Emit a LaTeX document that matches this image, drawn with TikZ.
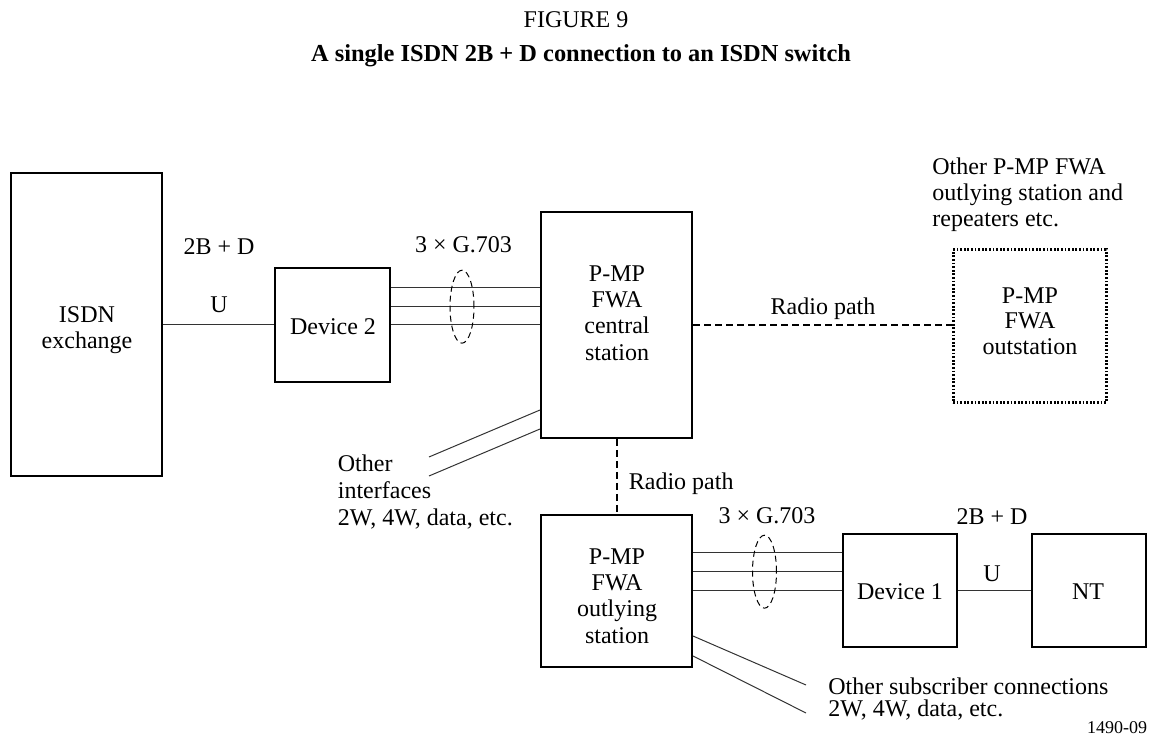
\documentclass[tikz,border=0pt]{standalone}
\usepackage{fontspec}
\setmainfont{Liberation Serif}
\usetikzlibrary{shapes.geometric}
\begin{document}
\begin{tikzpicture}[x=0.5pt,y=-0.5pt,
  box/.style={draw,line width=1pt,rectangle,inner sep=0pt},
  dotbox/.style={draw,line width=1.5pt,rectangle,inner sep=0pt,dash pattern=on 0.9pt off 0.9pt},
  lbl/.style={font=\fontsize{12pt}{13.2pt}\selectfont,inner sep=0pt,align=center},
  lbll/.style={font=\fontsize{12pt}{13pt}\selectfont,inner sep=0pt,align=left,anchor=west},
  wire/.style={line width=0.5pt,black!80},
  radio/.style={line width=1pt,dash pattern=on 3.5pt off 2pt},
  bundle/.style={draw,ellipse,line width=0.5pt,dash pattern=on 3pt off 2pt,minimum width=12pt,minimum height=36.5pt,inner sep=0pt}]
\useasboundingbox (0,0) rectangle (1152,737);

% titles
\node[lbl] (fig) at (576,20) {FIGURE 9};
\node[lbl,font=\fontsize{12.2pt}{14pt}\selectfont\bfseries] (title) at (581,56) {A single ISDN 2B + D connection to an ISDN switch};

% boxes
\node[box,minimum width=75.5pt,minimum height=151.5pt] (isdn) at (86.5,325) {};
\node[box,minimum width=57.5pt,minimum height=57pt] (dev2) at (332.5,325) {};
\node[box,minimum width=75.5pt,minimum height=113pt] (cs) at (616.5,325) {};
\node[dotbox,minimum width=76.5pt,minimum height=76.5pt] (os) at (1029.5,326.5) {};
\node[box,minimum width=75.5pt,minimum height=76pt] (ol) at (616.5,591) {};
\node[box,minimum width=57pt,minimum height=56.5pt] (dev1) at (900,590.5) {};
\node[box,minimum width=57pt,minimum height=56.5pt] (nt) at (1089,590.5) {};

% box texts
\node[lbl] (isdnt) at (87,330) {ISDN\\exchange};
\node[lbl] (dev2t) at (333,327) {Device 2};
\node[lbl] (cst) at (617,313) {P-MP\\FWA\\central\\station};
\node[lbl,font=\fontsize{12pt}{12.8pt}\selectfont] (ost) at (1030,321) {P-MP\\FWA\\outstation};
\node[lbl] (olt) at (617,596) {P-MP\\FWA\\outlying\\station};
\node[lbl] (dev1t) at (900,592) {Device 1};
\node[lbl] (ntt) at (1088,592) {NT};

% helper coordinates
\coordinate (t1) at (0,288);
\coordinate (t2) at (0,307);
\coordinate (t3) at (0,325);
\coordinate (r1) at (0,553);
\coordinate (r2) at (0,572);
\coordinate (r3) at (0,590.5);
\coordinate (ia) at (0,410);
\coordinate (ib) at (0,429);
\coordinate (if1) at (429,457);
\coordinate (if2) at (429,476);
\coordinate (sa) at (0,636);
\coordinate (sb) at (0,656);
\coordinate (sc1) at (806,685);
\coordinate (sc2) at (806,713);

% connectors
\draw[wire] (isdn.east) -- (dev2.west);
\foreach \c in {t1,t2,t3} \draw[wire] (dev2.east |- \c) -- (cs.west |- \c);
\draw[radio] (cs.east) -- (cs.east -| os.west);
\draw[radio] (cs.south) -- (ol.north);
\foreach \c in {r1,r2,r3} \draw[wire] (ol.east |- \c) -- (dev1.west |- \c);
\draw[wire] (dev1.east) -- (nt.west);
\draw[wire] (cs.west |- ia) -- (if1);
\draw[wire] (cs.west |- ib) -- (if2);
\draw[wire] (ol.east |- sa) -- (sc1);
\draw[wire] (ol.east |- sb) -- (sc2);

% bundles
\node[bundle] (e1) at (462,306.7) {};
\node[bundle] (e2) at (764.5,571.7) {};

% labels
\node[lbl] (l2bd) at (219,247) {2B + D};
\node[lbl] (lu) at (219,305) {U};
\node[lbl] (lg1) at (463.5,245) {3 × G.703};
\node[lbl] (lrp1) at (823,309) {Radio path};
\node[lbll] (lother) at (932,195) {Other P-MP FWA\\outlying station and\\repeaters etc.};
\node[lbll,font=\fontsize{12pt}{13.4pt}\selectfont] (lif) at (337.5,492) {Other\\interfaces\\2W, 4W, data, etc.};
\node[lbll] (lrp2) at (628.5,484) {Radio path};
\node[lbl] (lg2) at (767,516) {3 × G.703};
\node[lbl] (l2bd2) at (992,517) {2B + D};
\node[lbl] (lu2) at (992,574) {U};
\node[lbll,font=\fontsize{12pt}{11.4pt}\selectfont] (lsub) at (828,699) {Other subscriber connections\\2W, 4W, data, etc.};
\node[lbl,font=\fontsize{9pt}{10pt}\selectfont] (code) at (1117,728) {1490-09};
\end{tikzpicture}
\end{document}
